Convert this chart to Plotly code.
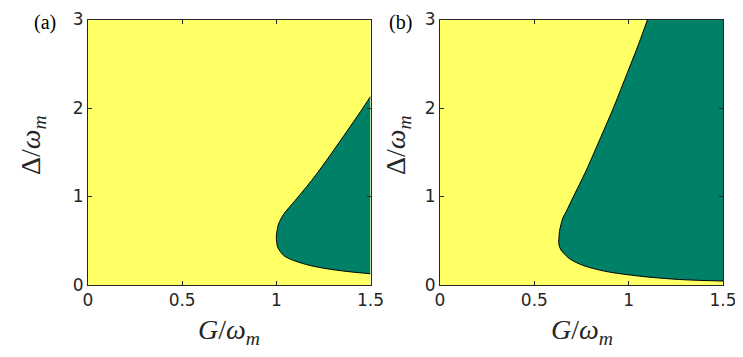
import plotly.graph_objects as go
from plotly.subplots import make_subplots

# boundary of the green region (lower end -> upper end)
g_a = [1.5, 1.375, 1.27, 1.18, 1.092, 1.039, 1.007, 1.002, 1.0, 1.004, 1.012, 1.039,
       1.10, 1.198, 1.287, 1.376, 1.447, 1.5]
d_a = [0.127, 0.153, 0.183, 0.22, 0.277, 0.333, 0.427, 0.484, 0.54, 0.616, 0.69, 0.80,
       0.955, 1.21, 1.47, 1.74, 1.96, 2.13]

g_b = [1.5, 1.27, 1.058, 0.88, 0.757, 0.686, 0.642, 0.632, 0.629, 0.631, 0.633, 0.651,
       0.669, 0.704, 0.774, 0.844, 0.915, 0.986, 1.056, 1.10]
d_b = [0.045, 0.062, 0.10, 0.153, 0.222, 0.298, 0.394, 0.443, 0.489, 0.546, 0.604, 0.756,
       0.83, 0.985, 1.29, 1.63, 1.98, 2.36, 2.74, 3.0]

x_max = 1.5
y_max = 3
x_ticks = [0, 0.5, 1, 1.5]
x_ticktext = ['0', '0.5', '1', '1.5']
y_ticks = [0, 1, 2, 3]
panel_labels = ['(a)', '(b)']

yellow = '#FFFF66'
green = '#008066'
axis_col = '#262626'

# the page body adds an 8px margin, so the figure is placed at (8, 8)
W, H, OFF = 735, 349, 8


def px_x(v):
    return (v - OFF) / W


def px_y(v):
    return 1 - (v - OFF) / H


fig = make_subplots(rows=1, cols=2)

for i, (g, d) in enumerate([(g_a, d_a), (g_b, d_b)]):
    col = i + 1
    # right edge of the region (and top-right corner if the curve leaves through the top)
    ex = [x_max]
    ey = [d[0]]
    if d[-1] >= y_max:
        ex += [x_max]
        ey += [y_max]
    ex += [g[-1]]
    ey += [d[-1]]
    fig.add_trace(go.Scatter(x=ex, y=ey, mode='lines', line=dict(width=0),
                             hoverinfo='skip'), row=1, col=col)
    fig.add_trace(go.Scatter(x=g, y=d, mode='lines', fill='tonext', fillcolor=green,
                             line=dict(color='black', width=1, shape='spline', smoothing=0.8),
                             hoverinfo='skip'), row=1, col=col)

axis_common = dict(showgrid=False, zeroline=False, showline=True, linecolor=axis_col,
                   linewidth=1, mirror='ticks', ticks='inside', ticklen=4,
                   tickcolor=axis_col, automargin=False,
                   tickfont=dict(family='DejaVu Sans', size=17, color='#262626'))

fig.update_xaxes(range=[0, x_max], tickvals=x_ticks, ticktext=x_ticktext, **axis_common)
fig.update_yaxes(range=[0, y_max], tickvals=y_ticks, **axis_common)

y_dom = [px_y(285), px_y(19.5)]
fig.update_layout(
    xaxis=dict(domain=[px_x(88), px_x(370.5)]),
    xaxis2=dict(domain=[px_x(440), px_x(723)]),
    yaxis=dict(domain=y_dom),
    yaxis2=dict(domain=y_dom),
)

serif = 'Liberation Serif'
ann = []
for x0, x1, lab, ylx, plx in [(88, 370, panel_labels[0], 32, 45),
                              (440, 723, panel_labels[1], 397, 400)]:
    common = dict(xref='paper', yref='paper', showarrow=False, xanchor='center', yanchor='middle')
    ann.append(dict(x=px_x((x0 + x1) / 2), y=px_y(331), text='<i>G</i>/<i>ω<sub>m</sub></i>',
                    font=dict(family=serif, size=28, color='#262626'), **common))
    ann.append(dict(x=px_x(ylx), y=px_y(145), textangle=-90, text='Δ/<i>ω<sub>m</sub></i>',
                    font=dict(family=serif, size=28, color='#262626'), **common))
    ann.append(dict(x=px_x(plx), y=px_y(22), text=lab,
                    font=dict(family=serif, size=20, color='black'), **common))

fig.update_layout(
    width=W, height=H,
    margin=dict(l=0, r=0, t=0, b=0),
    paper_bgcolor='white',
    plot_bgcolor=yellow,
    showlegend=False,
    annotations=ann,
)

fig.write_html("out.html")
